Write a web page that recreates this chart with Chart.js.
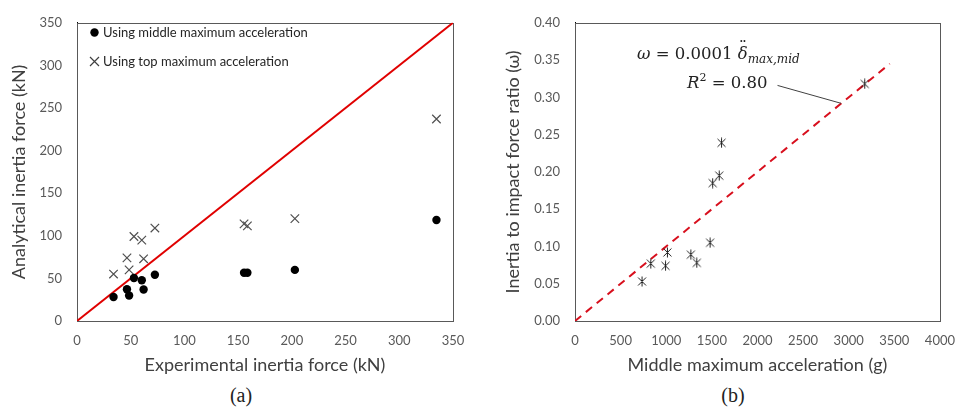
<!DOCTYPE html>
<html>
<head>
<meta charset="utf-8">
<script src="https://cdn.jsdelivr.net/npm/chart.js@4.4.0/dist/chart.umd.min.js"></script>
<style>
    body { margin: 0; background: #fff; width: 967px; height: 412px; position: relative; overflow: hidden; font-family: Lato, "Open Sans", sans-serif; }
    .panel { position: absolute; top: 0; }
    .cap { position: absolute; top: 384px; font-family: "Liberation Serif", serif; font-size: 20px; color: #222; transform: translateX(-50%); }
    .leg { position: absolute; left: 89px; font-size: 13px; color: #262626; display: flex; align-items: center; white-space: nowrap; }
    .leg svg { margin-right: 3px; }
    .eq { position: absolute; font-family: "DejaVu Serif", "Liberation Serif", serif; font-size: 16.5px; color: #222; white-space: nowrap; }
    .eq sub { font-size: 12px; }
    .ddot { position: relative; display: inline-block; }
    .ddot b { position: absolute; left: 1px; top: -6px; font-weight: normal; font-style: normal; }
</style>
</head>
<body>
<div class="panel" style="left:0"><canvas id="chart-a" width="480" height="380"></canvas></div>
<div class="panel" style="left:480px"><canvas id="chart-b" width="487" height="380"></canvas></div>

<div class="leg" style="top:24px"><svg width="11" height="11"><circle cx="5.5" cy="5.5" r="4.2" fill="#000"/></svg>Using middle maximum acceleration</div>
<div class="leg" style="top:53px"><svg width="11" height="11"><path d="M1 1L10 10M10 1L1 10" stroke="#404040" stroke-width="1.2"/></svg>Using top maximum acceleration</div>

<div class="eq" style="left:637px; top:44px"><i>ω</i> = 0.0001 <span class="ddot"><i>δ</i><b>¨</b></span><sub><i>max,mid</i></sub></div>
<div class="eq" style="left:687px; top:71px"><i>R</i><sup style="font-size:11px">2</sup> = 0.80</div>

<div class="cap" style="left:241px">(a)</div>
<div class="cap" style="left:733px">(b)</div>

<script>
    // (a) inertia force, kN
    const expForce = [34, 46.5, 48.5, 53, 60.3, 62, 72.5, 155.5, 158.6, 202.8, 334.6];
    const midForce = [28.1, 37.2, 30.0, 50.5, 47.9, 36.9, 54.3, 56.6, 56.6, 60.0, 118.6];
    const topForce = [55.1, 74.1, 60.0, 99.2, 95.0, 73.0, 109.1, 114.0, 111.7, 120.1, 237.1];
    const equalityLine = [0, 350];

    // (b) inertia / impact force ratio vs middle max acceleration (g)
    const midAccel = [735, 831, 992, 1013, 1270, 1335, 1481, 1509, 1581, 1606, 3176];
    const forceRatio = [0.053, 0.077, 0.074, 0.092, 0.089, 0.078, 0.105, 0.185, 0.195, 0.239, 0.318];
    const fitSlope = 0.0001;
    const fitRange = [0, 3450];
    const leaderX = [2220, 2917];
    const leaderY = [0.316, 0.292];

    const tickColor = '#595959';
    const titleColor = '#404040';

    // excel style asterisk marker
    const asterisk = document.createElement('canvas');
    asterisk.width = 11;
    asterisk.height = 11;
    (function () {
        const c = asterisk.getContext('2d');
        c.strokeStyle = '#222';
        c.lineWidth = 1;
        c.beginPath();
        c.moveTo(1.5, 1.5); c.lineTo(9.5, 9.5);
        c.moveTo(9.5, 1.5); c.lineTo(1.5, 9.5);
        c.moveTo(5.5, 0.5); c.lineTo(5.5, 10.5);
        c.stroke();
    })();

    const frameBox = {
        id: 'frameBox',
        beforeDatasetsDraw(chart) {
            const {ctx, chartArea: a} = chart;
            ctx.save();
            ctx.strokeStyle = '#595959';
            ctx.lineWidth = 1;
            ctx.strokeRect(Math.round(a.left) + 0.5, Math.round(a.top) + 0.5, Math.round(a.right - a.left), Math.round(a.bottom - a.top));
            ctx.restore();
        }
    };

    function axis(min, max, step, title, opts) {
        return {
            type: 'linear',
            min: min,
            max: max,
            grid: {display: false, drawTicks: false},
            border: {display: true, color: '#000', width: 1},
            ticks: {
                stepSize: step,
                color: tickColor,
                font: {family: 'Lato', size: 13},
                padding: opts.pad,
                callback: opts.fmt || (v => v)
            },
            title: {
                display: true,
                text: title,
                color: titleColor,
                font: {family: 'Lato', size: 18},
                padding: opts.titlePad
            },
            afterFit: opts.fit
        };
    }

    const common = {
        responsive: false,
        animation: false,
        devicePixelRatio: 1,
        plugins: {legend: {display: false}, tooltip: {enabled: false}}
    };

    new Chart(document.getElementById('chart-a').getContext('2d'), {
        type: 'scatter',
        data: {
            datasets: [
                {
                    type: 'line',
                    data: equalityLine.map(v => ({x: v, y: v})),
                    borderColor: '#e00000',
                    borderWidth: 2,
                    pointRadius: 0,
                    order: 3
                },
                {
                    data: expForce.map((x, i) => ({x: x, y: midForce[i]})),
                    pointStyle: 'circle',
                    pointRadius: 4.2,
                    borderWidth: 0,
                    backgroundColor: '#000',
                    order: 1
                },
                {
                    data: expForce.map((x, i) => ({x: x, y: topForce[i]})),
                    pointStyle: 'crossRot',
                    pointRadius: 6,
                    borderColor: '#505050',
                    borderWidth: 1.2,
                    order: 2
                }
            ]
        },
        options: Object.assign({}, common, {
            layout: {padding: {top: 14, right: 27}},
            scales: {
                x: axis(0, 350, 50, 'Experimental inertia force (kN)', {pad: 12, titlePad: {top: 4, bottom: 4}, fit: s => { s.height = 59; }}),
                y: axis(0, 350, 50, 'Analytical inertia force (kN)', {pad: 15, titlePad: {top: 8, bottom: 4}, fit: s => { s.width = 77; }})
            }
        }),
        plugins: [frameBox]
    });

    new Chart(document.getElementById('chart-b').getContext('2d'), {
        type: 'scatter',
        data: {
            datasets: [
                {
                    type: 'line',
                    data: fitRange.map(v => ({x: v, y: v * fitSlope})),
                    borderColor: '#d8101e',
                    borderWidth: 2,
                    borderDash: [8, 6],
                    pointRadius: 0,
                    order: 3
                },
                {
                    type: 'line',
                    data: leaderX.map((x, i) => ({x: x, y: leaderY[i]})),
                    borderColor: '#404040',
                    borderWidth: 1,
                    pointRadius: 0,
                    order: 2
                },
                {
                    data: midAccel.map((x, i) => ({x: x, y: forceRatio[i]})),
                    pointStyle: asterisk,
                    order: 1
                }
            ]
        },
        options: Object.assign({}, common, {
            layout: {padding: {top: 11, right: 19}},
            scales: {
                x: axis(0, 4000, 500, 'Middle maximum acceleration (g)', {pad: 12, titlePad: {top: 4, bottom: 4}, fit: s => { s.height = 59; }}),
                y: axis(0, 0.4, 0.05, 'Inertia to impact force ratio (ω)', {pad: 15, titlePad: {top: 22, bottom: 4}, fmt: v => v.toFixed(2), fit: s => { s.width = 95; }})
            }
        }),
        plugins: [frameBox]
    });
</script>
</body>
</html>
